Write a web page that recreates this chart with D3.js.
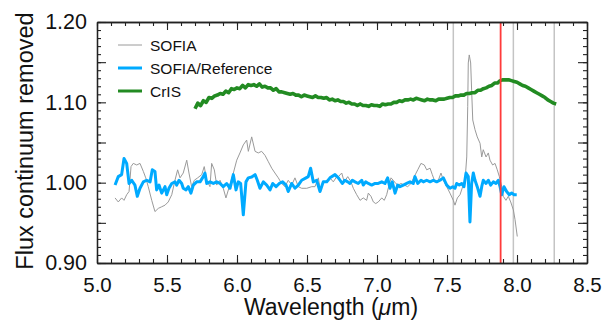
<!DOCTYPE html>
<html>
<head>
<meta charset="utf-8">
<script src="https://cdn.jsdelivr.net/npm/d3@7"></script>
<style>
body{margin:0;background:#fff;}
svg{display:block;font-family:"Liberation Sans",Arial,Helvetica,sans-serif;}
</style>
</head>
<body>
<svg id="chart" width="603" height="323"></svg>
<script>
// data
let sofiaWave=[5.129,5.152,5.176,5.193,5.212,5.229,5.243,5.259,5.284,5.307,5.331,5.348,5.366,5.391,5.414,5.438,5.462,5.486,5.509,5.534,
5.557,5.576,5.593,5.616,5.641,5.657,5.676,5.695,5.719,5.748,5.766,5.784,5.807,5.819,5.838,5.855,5.879,5.902,5.921,5.945,
5.974,5.998,6.021,6.045,6.069,6.081,6.105,6.129,6.152,6.176,6.200,6.224,6.248,6.271,6.295,6.319,6.343,6.366,6.391,6.414,
6.438,6.462,6.498,6.534,6.557,6.581,6.593,6.616,6.641,6.664,6.688,6.712,6.724,6.748,6.766,6.791,6.814,6.831,6.855,6.879,
6.902,6.926,6.938,6.957,6.974,6.991,7.009,7.034,7.052,7.069,7.086,7.100,7.116,7.134,7.152,7.171,7.195,7.219,7.243,7.266,
7.291,7.314,7.338,7.355,7.379,7.395,7.414,7.438,7.457,7.474,7.498,7.521,7.545,7.557,7.574,7.593,7.612,7.629,7.641,7.648,
7.652,7.659,7.669,7.676,7.684,7.700,7.716,7.736,7.748,7.759,7.779,7.795,7.807,7.826,7.843,7.859,7.874,7.891,7.902,7.921,
7.938,7.955,7.974,7.986,8.002];
let sofiaFlux=[0.981,0.976,0.981,0.978,0.985,0.989,1.020,1.024,1.022,1.024,1.014,1.006,0.995,0.978,0.964,0.968,0.970,0.972,0.976,0.985,
1.003,1.016,1.006,1.012,1.028,1.012,0.995,1.003,1.006,1.010,1.020,1.003,0.995,1.024,1.016,0.997,1.003,0.993,0.981,0.995,
1.012,1.028,1.037,1.047,1.053,1.039,1.057,1.039,1.037,1.039,1.034,1.026,1.018,1.012,1.006,0.999,0.995,1.003,0.997,1.006,
0.995,0.993,0.993,0.995,0.995,1.006,0.993,0.999,1.003,1.006,1.001,1.0075,1.0075,1.012,1.001,1.0075,1.001,0.993,0.985,0.978,
0.981,0.978,0.987,0.983,0.976,0.974,0.976,0.981,0.978,0.985,0.997,1.006,1.003,0.999,0.997,0.999,0.997,0.995,0.999,1.0075,
1.016,1.024,1.022,1.016,1.018,1.010,1.001,1.003,1.012,1.003,0.995,0.987,0.978,0.972,0.981,0.985,0.995,1.003,1.032,1.095,
1.149,1.159,1.149,1.115,1.078,1.066,1.057,1.049,1.032,1.041,1.032,1.037,1.028,1.022,1.024,1.016,1.0075,0.995,0.983,0.978,
0.983,0.976,0.966,0.954,0.933];

let ratioWave=[5.129,5.152,5.176,5.193,5.212,5.229,5.248,5.271,5.288,5.307,5.331,5.355,5.379,5.395,5.414,5.426,5.443,5.462,5.486,5.498,
5.514,5.534,5.557,5.569,5.586,5.605,5.616,5.636,5.652,5.671,5.688,5.712,5.736,5.759,5.771,5.784,5.807,5.831,5.855,5.879,
5.902,5.926,5.950,5.974,5.993,6.009,6.026,6.045,6.064,6.081,6.105,6.129,6.145,6.164,6.188,6.212,6.236,6.255,6.279,6.302,
6.326,6.350,6.366,6.391,6.414,6.438,6.462,6.493,6.509,6.526,6.545,6.569,6.593,6.616,6.641,6.664,6.700,6.724,6.736,6.752,
6.771,6.791,6.807,6.824,6.843,6.866,6.891,6.902,6.919,6.938,6.962,6.986,7.009,7.034,7.057,7.076,7.093,7.109,7.129,7.148,
7.164,7.188,7.212,7.236,7.259,7.271,7.291,7.314,7.331,7.355,7.379,7.402,7.426,7.450,7.474,7.498,7.521,7.541,7.557,7.569,
7.588,7.605,7.621,7.636,7.652,7.664,7.676,7.688,7.700,7.716,7.736,7.748,7.759,7.779,7.795,7.812,7.831,7.850,7.866,7.879,
7.891,7.907,7.926,7.945,7.962,7.979,7.998];
let ratioFlux=[0.997,1.0075,1.010,1.030,1.024,0.999,1.003,0.997,0.983,0.993,1.001,1.003,1.001,1.016,1.014,0.991,0.997,0.987,0.995,0.985,
0.993,0.999,1.001,0.997,1.003,0.999,0.993,0.991,0.995,0.987,0.997,1.001,1.001,1.0075,1.012,0.999,1.001,0.999,1.001,0.999,
0.995,0.999,0.993,1.010,0.991,1.001,0.999,0.960,1.001,1.006,1.007,1.010,1.003,0.993,1.001,0.997,0.991,0.999,0.995,0.999,
1.001,0.997,0.989,0.999,0.993,0.997,1.003,1.006,1.0075,1.018,1.001,1.003,0.989,1.001,1.001,1.006,1.010,1.006,1.003,0.999,
1.003,1.001,0.999,1.003,1.001,0.999,1.003,0.997,1.001,0.999,0.997,0.999,0.999,1.001,0.999,1.006,0.993,1.001,0.987,0.997,
0.995,0.997,0.999,1.001,0.999,1.0075,0.999,1.003,1.001,1.003,1.001,1.003,1.001,1.003,1.006,0.997,0.993,0.995,0.993,0.999,
0.997,0.999,0.995,1.012,1.0075,0.951,0.999,1.012,1.003,0.995,0.983,0.995,1.003,0.999,1.003,0.997,1.001,0.999,1.003,0.995,
0.985,0.995,0.989,0.985,0.987,0.985,0.985];

// CrIS sampled every 0.02 um from 5.70
let crisStart=5.70, crisStep=0.02;
let crisFlux=[1.092,1.099,1.096,1.102,1.100,1.106,1.105,1.108,1.109,1.111,1.110,1.114,1.112,1.117,1.116,
1.118,1.117,1.121,1.118,1.122,1.121,1.122,1.120,1.123,1.119,1.120,1.118,1.118,1.115,1.117,1.113,1.113,1.112,1.111,1.110,
1.111,1.109,1.109,1.107,1.109,1.108,1.107,1.106,1.108,1.106,1.106,1.105,1.106,1.103,1.104,1.102,1.103,1.101,1.101,1.099,
1.100,1.098,1.098,1.096,1.098,1.096,1.096,1.095,1.097,1.096,
1.096,1.095,1.098,1.097,1.098,1.098,1.100,1.100,1.102,1.101,1.103,1.103,1.104,1.103,1.105,1.104,1.103,1.102,1.104,1.103,
1.103,1.102,1.104,1.104,1.104,1.105,1.106,1.106,1.108,1.108,1.109,1.109,1.111,1.111,1.112,1.112,1.115,1.115,1.117,1.118,
1.120,1.121,1.124,1.124,1.127,1.128,1.128,1.128,1.127,1.126,
1.125,1.123,1.121,1.120,1.118,1.116,1.114,1.112,1.110,1.108,1.106,1.103,1.101,1.099,1.098];

let greyLines=[7.545,7.974,8.266];
let redLines=[7.883];

let legendNames=["SOFIA","SOFIA/Reference","CrIS"];
let colors={sofia:"#9a9a9a", ratio:"#00aaff", cris:"#228b22"};

let xLabels=[5.0,5.5,6.0,6.5,7.0,7.5,8.0,8.5];
let yLabels=[0.90,1.00,1.10,1.20];

// scales
let x=d3.scaleLinear().domain([5,8.5]).range([97,587]);
let y=d3.scaleLinear().domain([0.9,1.2]).range([263,22]);

let svg=d3.select("#chart");
svg.append("rect").attr("width",603).attr("height",323).attr("fill","#fff");

// vertical marker lines (grey behind the curves)
svg.selectAll(".vgrey").data(greyLines).enter().append("line")
    .attr("x1",d=>x(d)).attr("x2",d=>x(d))
    .attr("y1",y(1.2)).attr("y2",y(0.9))
    .attr("stroke","#c4c4c4").attr("stroke-width",1.5);

let line=d3.line().x(d=>x(d[0])).y(d=>y(d[1]));

let sofia=d3.zip(sofiaWave,sofiaFlux);
let ratio=d3.zip(ratioWave,ratioFlux);
let cris=crisFlux.map((v,i)=>[crisStart+i*crisStep,v]);

svg.append("path").datum(sofia).attr("d",line)
    .attr("fill","none").attr("stroke",colors.sofia).attr("stroke-width",1);
svg.append("path").datum(ratio).attr("d",line)
    .attr("fill","none").attr("stroke",colors.ratio).attr("stroke-width",3)
    .attr("stroke-linejoin","round");
svg.append("path").datum(cris).attr("d",line)
    .attr("fill","none").attr("stroke",colors.cris).attr("stroke-width",3.6)
    .attr("stroke-linejoin","round");

svg.selectAll(".vred").data(redLines).enter().append("line")
    .attr("x1",d=>x(d)).attr("x2",d=>x(d))
    .attr("y1",y(1.2)).attr("y2",y(0.9))
    .attr("stroke","#ff3b3b").attr("stroke-width",1.8);

// axes, ticks pointing inward
let yMinor=d3.range(31).map(i=>0.9+i*0.01);
let yMajor=d3.range(7).map(i=>0.9+i*0.05);
let xMinor=d3.range(36).map(i=>5+i*0.1);
let fmtY=d=>yLabels.some(v=>Math.abs(v-d)<1e-6)?d3.format(".2f")(d):"";

function styleAxis(g){
    g.select(".domain").attr("stroke","#222").attr("stroke-width",1.3);
    g.selectAll(".tick line").attr("stroke","#222").attr("stroke-width",1.1);
    g.selectAll("text").attr("fill","#111").style("font-family","Liberation Sans, Arial, sans-serif");
}

svg.append("g").attr("transform","translate(97,0)")
    .call(d3.axisLeft(y).tickValues(yMinor).tickSize(-4).tickSizeOuter(0).tickFormat(""))
    .call(styleAxis);
svg.append("g").attr("transform","translate(97,0)")
    .call(d3.axisLeft(y).tickValues(yMajor).tickSize(-9).tickSizeOuter(0).tickPadding(10).tickFormat(fmtY))
    .call(styleAxis)
    .selectAll("text").style("font-size","21.5px");
svg.append("g").attr("transform","translate(587,0)")
    .call(d3.axisRight(y).tickValues(yMinor).tickSize(-4).tickSizeOuter(0).tickFormat(""))
    .call(styleAxis);
svg.append("g").attr("transform","translate(587,0)")
    .call(d3.axisRight(y).tickValues(yMajor).tickSize(-9).tickSizeOuter(0).tickFormat(""))
    .call(styleAxis);

svg.append("g").attr("transform","translate(0,263)")
    .call(d3.axisBottom(x).tickValues(xMinor).tickSize(-4).tickSizeOuter(0).tickFormat(""))
    .call(styleAxis);
svg.append("g").attr("transform","translate(0,263)")
    .call(d3.axisBottom(x).tickValues(xLabels).tickSize(-8).tickSizeOuter(0).tickPadding(14).tickFormat(d3.format(".1f")))
    .call(styleAxis)
    .selectAll("text").style("font-size","20.5px");
svg.append("g").attr("transform","translate(0,22)")
    .call(d3.axisTop(x).tickValues(xMinor).tickSize(-4).tickSizeOuter(0).tickFormat(""))
    .call(styleAxis);
svg.append("g").attr("transform","translate(0,22)")
    .call(d3.axisTop(x).tickValues(xLabels).tickSize(-8).tickSizeOuter(0).tickFormat(""))
    .call(styleAxis);

// axis titles
let xt=svg.append("text").attr("x",331).attr("y",315).attr("text-anchor","middle")
    .style("font-size","23px").attr("fill","#111");
xt.append("tspan").text("Wavelength (");
xt.append("tspan").text("\u03bc").style("font-style","italic");
xt.append("tspan").text("m)");

svg.append("text").attr("transform","translate(33,141) rotate(-90)")
    .attr("text-anchor","middle").style("font-size","23.5px").attr("fill","#111")
    .text("Flux continuum removed");

// legend
let legend=svg.append("g");
let legendStyle=[{c:colors.sofia,w:1},{c:colors.ratio,w:3},{c:colors.cris,w:3}];
legendNames.forEach(function(name,i){
    let ly=45+i*23;
    legend.append("line").attr("x1",118).attr("x2",142).attr("y1",ly).attr("y2",ly)
        .attr("stroke",legendStyle[i].c).attr("stroke-width",legendStyle[i].w);
    legend.append("text").attr("x",150).attr("y",ly).attr("dy","0.36em")
        .style("font-size","15.5px").attr("fill","#111").text(name);
});
</script>
</body>
</html>
